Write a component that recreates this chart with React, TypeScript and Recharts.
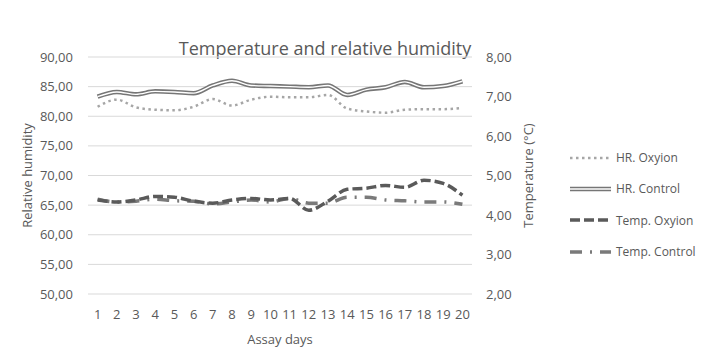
import React from 'react';
import { LineChart, Line, XAxis, YAxis, CartesianGrid, Legend } from 'recharts';

const days = [1, 2, 3, 4, 5, 6, 7, 8, 9, 10, 11, 12, 13, 14, 15, 16, 17, 18, 19, 20];
const hrOxyion = [81.6, 82.8, 81.5, 81.1, 81.0, 81.6, 82.9, 81.8, 82.8, 83.3, 83.2, 83.2, 83.6, 81.3, 80.8, 80.6, 81.1, 81.2, 81.2, 81.4];
const hrControl = [83.3, 84.1, 83.7, 84.2, 84.1, 83.9, 85.2, 86.0, 85.2, 85.1, 85.0, 84.9, 85.2, 83.6, 84.5, 84.9, 85.8, 84.9, 85.1, 85.9];
const tempOxyion = [4.38, 4.33, 4.38, 4.47, 4.45, 4.35, 4.3, 4.38, 4.42, 4.38, 4.42, 4.12, 4.35, 4.65, 4.68, 4.75, 4.7, 4.88, 4.8, 4.5];
const tempControl = [4.4, 4.33, 4.35, 4.4, 4.36, 4.35, 4.28, 4.33, 4.38, 4.33, 4.42, 4.3, 4.3, 4.45, 4.45, 4.38, 4.36, 4.33, 4.33, 4.27];
const leftTicks = [50, 55, 60, 65, 70, 75, 80, 85, 90];
const rightTicks = [2, 3, 4, 5, 6, 7, 8];

const data = days.map((d, i) => ({
  day: d,
  hrOxyion: hrOxyion[i],
  hrControl: hrControl[i],
  tempOxyion: tempOxyion[i],
  tempControl: tempControl[i],
}));

const FONT = '"Open Sans", sans-serif';
const TXT = '#595959';
const fmt = (v: number) => v.toFixed(2).replace('.', ',');

const legendItems = [
  { label: 'HR. Oxyion', kind: 'dot' },
  { label: 'HR. Control', kind: 'double' },
  { label: 'Temp. Oxyion', kind: 'dash' },
  { label: 'Temp. Control', kind: 'dashdot' },
];

const renderLegend = () => (
  <div style={{ fontFamily: FONT, fontSize: 12, color: TXT }}>
    {legendItems.map((it) => (
      <div key={it.label} style={{ display: 'flex', alignItems: 'center', height: 31.3 }}>
        <svg width={44} height={10} style={{ marginRight: 3 }}>
          {it.kind === 'dot' && (
            <line x1={1} y1={5} x2={42} y2={5} stroke="#a6a6a6" strokeWidth={2.5} strokeDasharray="2.5 3.5" />
          )}
          {it.kind === 'double' && (
            <g>
              <line x1={1} y1={5} x2={42} y2={5} stroke="#767676" strokeWidth={4.5} />
              <line x1={1} y1={5} x2={42} y2={5} stroke="#ffffff" strokeWidth={1.4} />
            </g>
          )}
          {it.kind === 'dash' && (
            <line x1={1} y1={5} x2={42} y2={5} stroke="#5a5a5a" strokeWidth={3.5} strokeDasharray="10 4" />
          )}
          {it.kind === 'dashdot' && (
            <line x1={1} y1={5} x2={42} y2={5} stroke="#7a7a7a" strokeWidth={3.5} strokeDasharray="12 8 2 8" />
          )}
        </svg>
        <span>{it.label}</span>
      </div>
    ))}
  </div>
);

export default function App() {
  return (
    <div style={{ position: 'absolute', left: 0, top: 0, width: 712, height: 357, background: '#fff' }}>
      <div
        style={{
          position: 'absolute',
          left: 0,
          width: 650,
          top: 36,
          textAlign: 'center',
          fontFamily: FONT,
          fontSize: 18,
          color: TXT,
          lineHeight: '24px',
        }}
      >
        Temperature and relative humidity
      </div>
      <LineChart width={712} height={357} data={data} margin={{ top: 57, right: 170, bottom: 13, left: 10 }}>
        <CartesianGrid yAxisId="left" vertical={false} stroke="#d9d9d9" strokeWidth={1} />
        <XAxis
          dataKey="day"
          type="category"
          padding={{ left: 9.6, right: 9.6 }}
          axisLine={false}
          tickLine={false}
          tickSize={0}
          tickMargin={16}
          height={50}
          interval={0}
          tick={{ fontFamily: FONT, fontSize: 13, fill: TXT }}
          label={{ value: 'Assay days', position: 'insideBottom', offset: 0, style: { fontFamily: FONT, fontSize: 13, fill: TXT } }}
        />
        <YAxis
          yAxisId="left"
          orientation="left"
          domain={[50, 90]}
          ticks={leftTicks}
          tickFormatter={fmt}
          width={78}
          axisLine={false}
          tickLine={false}
          tickSize={0}
          tickMargin={15}
          tick={{ fontFamily: FONT, fontSize: 13, fill: TXT }}
          label={{
            value: 'Relative humidity',
            angle: -90,
            position: 'insideLeft',
            offset: 17,
            style: { textAnchor: 'middle', fontFamily: FONT, fontSize: 13, fill: TXT },
          }}
        />
        <YAxis
          yAxisId="right"
          orientation="right"
          domain={[2, 8]}
          ticks={rightTicks}
          tickFormatter={fmt}
          width={70}
          axisLine={false}
          tickLine={false}
          tickSize={0}
          tickMargin={14}
          tick={{ fontFamily: FONT, fontSize: 13, fill: TXT, textAnchor: 'start' }}
          label={{
            value: 'Temperature (°C)',
            angle: -90,
            position: 'insideRight',
            offset: 14,
            style: { textAnchor: 'middle', fontFamily: FONT, fontSize: 13, fill: TXT },
          }}
        />
        <Legend
          layout="vertical"
          align="center"
          verticalAlign="middle"
          content={renderLegend}
          wrapperStyle={{ left: 569, top: 142, width: 143 }}
        />
        <Line yAxisId="left" dataKey="hrOxyion" type="monotone" stroke="#a6a6a6" strokeWidth={2.5} strokeDasharray="2.5 3.5" dot={false} isAnimationActive={false} />
        <Line yAxisId="left" dataKey="hrControl" type="monotone" stroke="#767676" strokeWidth={4.5} dot={false} isAnimationActive={false} legendType="none" />
        <Line yAxisId="left" dataKey="hrControl" type="monotone" stroke="#ffffff" strokeWidth={1.4} dot={false} isAnimationActive={false} legendType="none" />
        <Line yAxisId="right" dataKey="tempControl" type="monotone" stroke="#7a7a7a" strokeWidth={3.5} strokeDasharray="12 8 2 8" dot={false} isAnimationActive={false} />
        <Line yAxisId="right" dataKey="tempOxyion" type="monotone" stroke="#5a5a5a" strokeWidth={3.5} strokeDasharray="10 4" dot={false} isAnimationActive={false} />
      </LineChart>
    </div>
  );
}
